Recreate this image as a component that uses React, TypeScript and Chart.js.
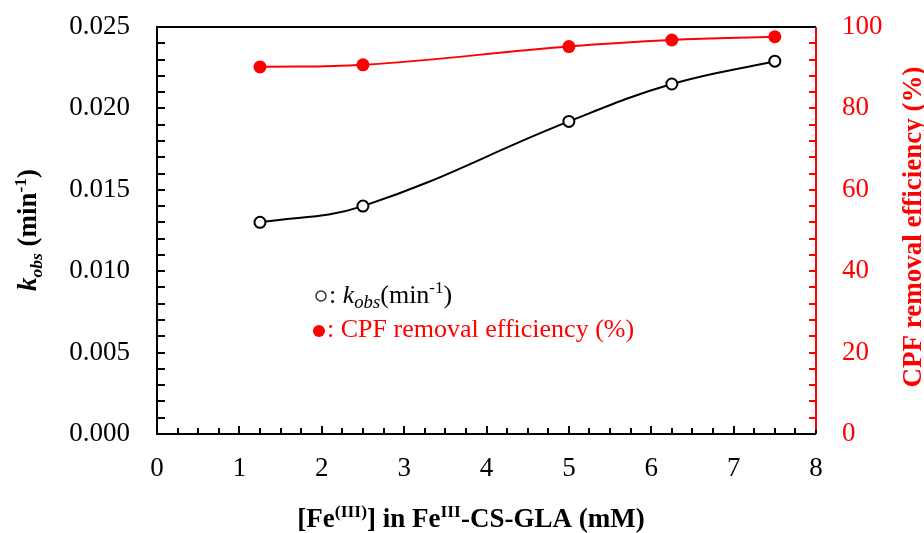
import React, { useEffect, useRef } from 'react';
import { Chart, registerables } from 'chart.js';

Chart.register(...registerables);

// ---- data ----
const feConc = [1.25, 2.5, 5, 6.25, 7.5];
const kObs = [0.013, 0.014, 0.0192, 0.0215, 0.0229];
const removalEff = [90.2, 90.7, 95.2, 96.8, 97.6];
const xRange = [0, 8];
const kRange = [0, 0.025];
const effRange = [0, 100];

const FONT = '"Liberation Serif", "Times New Roman", serif';
const RED = '#ff0000';

type Seg = { t: string; italic?: boolean; bold?: boolean; scale?: number; dy?: number };

function segFont(s: Seg, size: number) {
  const sz = size * (s.scale ?? 1);
  return `${s.italic ? 'italic ' : ''}${s.bold ? 'bold ' : ''}${sz}px ${FONT}`;
}

function richWidth(ctx: CanvasRenderingContext2D, segs: Seg[], size: number) {
  let w = 0;
  for (const s of segs) {
    ctx.font = segFont(s, size);
    w += ctx.measureText(s.t).width;
  }
  return w;
}

function drawRich(ctx: CanvasRenderingContext2D, segs: Seg[], size: number, x: number, y: number, color: string) {
  ctx.fillStyle = color;
  ctx.textBaseline = 'alphabetic';
  ctx.textAlign = 'left';
  let cx = x;
  for (const s of segs) {
    ctx.font = segFont(s, size);
    ctx.fillText(s.t, cx, y + (s.dy ?? 0) * size);
    cx += ctx.measureText(s.t).width;
  }
}

const overlay = {
  id: 'overlay',
  afterDraw(chart: any) {
    const ctx: CanvasRenderingContext2D = chart.ctx;
    const { left, right, top, bottom } = chart.chartArea;
    const xs = chart.scales.x;
    const ys = chart.scales.y;
    const y1 = chart.scales.y1;
    ctx.save();

    // ticks
    ctx.lineWidth = 2;
    ctx.strokeStyle = '#000';
    ctx.beginPath();
    for (let i = 0; i <= 25; i++) {
      const py = Math.round(ys.getPixelForValue(i * 0.001));
      ctx.moveTo(left, py);
      ctx.lineTo(left + 8, py);
    }
    for (let i = 0; i <= 32; i++) {
      const px = Math.round(xs.getPixelForValue(i * 0.25));
      const len = i % 4 === 0 ? 8 : 6;
      ctx.moveTo(px, bottom);
      ctx.lineTo(px, bottom - len);
    }
    ctx.stroke();
    ctx.strokeStyle = RED;
    ctx.beginPath();
    for (let i = 0; i <= 25; i++) {
      const py = Math.round(y1.getPixelForValue(i * 4));
      ctx.moveTo(right, py);
      ctx.lineTo(right - 7, py);
    }
    ctx.stroke();

    // frame
    ctx.strokeStyle = '#000';
    ctx.lineWidth = 2;
    ctx.beginPath();
    ctx.moveTo(right, top);
    ctx.lineTo(left, top);
    ctx.lineTo(left, bottom);
    ctx.lineTo(right, bottom);
    ctx.stroke();
    ctx.strokeStyle = RED;
    ctx.beginPath();
    ctx.moveTo(right, top);
    ctx.lineTo(right, bottom - 4);
    ctx.stroke();

    const size = 27;
    // left title
    const lt: Seg[] = [
      { t: 'k', italic: true, bold: true },
      { t: 'obs', italic: true, bold: true, scale: 0.65, dy: 0.22 },
      { t: ' (min', bold: true },
      { t: '-1', bold: true, scale: 0.65, dy: -0.38 },
      { t: ')', bold: true },
    ];
    ctx.save();
    ctx.translate(36, 230);
    ctx.rotate(-Math.PI / 2);
    drawRich(ctx, lt, size, -richWidth(ctx, lt, size) / 2, 0, '#000');
    ctx.restore();

    // right title
    const rt: Seg[] = [{ t: 'CPF removal efficiency (%)', bold: true }];
    ctx.save();
    ctx.translate(921, 227);
    ctx.rotate(-Math.PI / 2);
    drawRich(ctx, rt, size, -richWidth(ctx, rt, size) / 2, 0, RED);
    ctx.restore();

    // x title
    const xt: Seg[] = [
      { t: '[Fe', bold: true },
      { t: '(III)', bold: true, scale: 0.65, dy: -0.38 },
      { t: '] in Fe', bold: true },
      { t: 'III', bold: true, scale: 0.65, dy: -0.38 },
      { t: '-CS-GLA (mM)', bold: true },
    ];
    drawRich(ctx, xt, size, 471 - richWidth(ctx, xt, size) / 2, 527, '#000');

    // legend
    const ls = 26;
    ctx.lineWidth = 1.5;
    ctx.strokeStyle = '#333';
    ctx.fillStyle = '#fff';
    ctx.beginPath();
    ctx.arc(321, 296, 5, 0, Math.PI * 2);
    ctx.fill();
    ctx.stroke();
    const l1: Seg[] = [
      { t: ': ' },
      { t: 'k', italic: true },
      { t: 'obs', italic: true, scale: 0.72, dy: 0.2 },
      { t: '(min' },
      { t: '-1', scale: 0.65, dy: -0.38 },
      { t: ')' },
    ];
    drawRich(ctx, l1, ls, 329, 303, '#000');
    ctx.fillStyle = RED;
    ctx.beginPath();
    ctx.arc(319, 331, 6, 0, Math.PI * 2);
    ctx.fill();
    drawRich(ctx, [{ t: ': CPF removal efficiency (%)' }], ls, 327, 337, RED);

    ctx.restore();
  },
};

const zeroPad = (s: any) => {
  s.paddingTop = 0;
  s.paddingBottom = 0;
  s.paddingLeft = 0;
  s.paddingRight = 0;
};

export default function App() {
  const ref = useRef<HTMLCanvasElement | null>(null);
  useEffect(() => {
    if (!ref.current) return;
    const chart = new Chart(ref.current, {
      type: 'line',
      data: {
        datasets: [
          {
            label: 'CPF removal efficiency (%)',
            data: feConc.map((x, i) => ({ x, y: removalEff[i] })),
            yAxisID: 'y1',
            borderColor: RED,
            backgroundColor: RED,
            pointBackgroundColor: RED,
            pointBorderColor: RED,
            pointRadius: 6.5,
            pointBorderWidth: 0,
            borderWidth: 2,
            tension: 0.4,
          },
          {
            label: 'kobs (min-1)',
            data: feConc.map((x, i) => ({ x, y: kObs[i] })),
            yAxisID: 'y',
            borderColor: '#000',
            backgroundColor: '#fff',
            pointBackgroundColor: '#fff',
            pointBorderColor: '#000',
            pointRadius: 5.5,
            pointBorderWidth: 2,
            borderWidth: 2,
            tension: 0.4,
          },
        ],
      },
      options: {
        responsive: false,
        animation: false,
        layout: { padding: { top: 27, left: 0, right: 0, bottom: 0 } },
        plugins: { legend: { display: false }, tooltip: { enabled: false } },
        scales: {
          x: {
            type: 'linear',
            min: xRange[0],
            max: xRange[1],
            grid: { display: false, drawTicks: false },
            border: { display: false },
            ticks: {
              stepSize: 1,
              padding: 19,
              color: '#000',
              font: { family: FONT, size: 27 },
            },
            afterFit: (s: any) => {
              s.height = 99;
              zeroPad(s);
            },
          },
          y: {
            type: 'linear',
            position: 'left',
            min: kRange[0],
            max: kRange[1],
            grid: { display: false, drawTicks: false },
            border: { display: false },
            ticks: {
              stepSize: 0.005,
              padding: 27,
              color: '#000',
              font: { family: FONT, size: 27 },
              callback: (v: any) => Number(v).toFixed(3),
            },
            afterFit: (s: any) => {
              s.width = 157;
              zeroPad(s);
            },
          },
          y1: {
            type: 'linear',
            position: 'right',
            min: effRange[0],
            max: effRange[1],
            grid: { display: false, drawTicks: false },
            border: { display: false },
            ticks: {
              stepSize: 20,
              padding: 26,
              color: RED,
              font: { family: FONT, size: 27 },
            },
            afterFit: (s: any) => {
              s.width = 108;
              zeroPad(s);
            },
          },
        },
      },
      plugins: [overlay],
    });
    return () => chart.destroy();
  }, []);
  return (
    <div style={{ position: 'fixed', left: 0, top: 0, width: 924, height: 533, background: '#fff' }}>
      <canvas ref={ref} width={924} height={533} />
    </div>
  );
}
